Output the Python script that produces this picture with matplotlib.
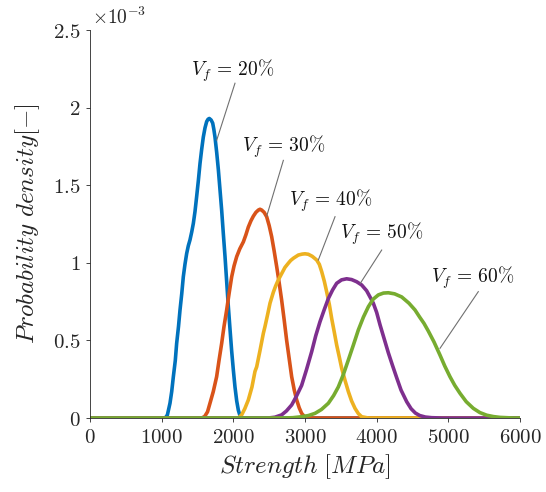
import numpy as np
import matplotlib
matplotlib.use("Agg")
import matplotlib.pyplot as plt
from matplotlib.ticker import FuncFormatter

plt.rcParams['mathtext.fontset'] = 'cm'
plt.rcParams['font.family'] = 'serif'
plt.rcParams['font.serif'] = ['DejaVu Serif']

# Strength [MPa] and density (x1e-3)
x20 = [0, 1000, 1050, 1080, 1116, 1140, 1163, 1190, 1209, 1235, 1256, 1280, 1302, 1325, 1349, 1372, 1395, 1420,
       1442, 1465, 1488, 1512, 1535, 1558, 1581, 1605, 1628, 1647, 1665, 1690, 1712, 1728, 1744, 1768, 1791, 1814,
       1837, 1860, 1884, 1907, 1930, 1954, 1977, 2000, 2023, 2047, 2070, 2093, 2116, 6000]
y20 = [0, 0, 0, 0.02, 0.095, 0.17, 0.266, 0.37, 0.48, 0.59, 0.696, 0.80, 0.91, 0.99, 1.06, 1.11, 1.147, 1.20,
       1.254, 1.33, 1.426, 1.53, 1.64, 1.73, 1.81, 1.87, 1.91, 1.925, 1.93, 1.92, 1.90, 1.86, 1.81, 1.71, 1.60, 1.47,
       1.34, 1.19, 1.04, 0.88, 0.72, 0.57, 0.43, 0.31, 0.20, 0.11, 0.05, 0.015, 0, 0]

x30 = [0, 1500, 1560, 1600, 1640, 1674, 1720, 1767, 1800, 1837, 1870, 1907, 1940, 1977, 2010, 2047, 2090, 2140,
       2175, 2209, 2245, 2279, 2315, 2350, 2372, 2395, 2430, 2465, 2500, 2535, 2570, 2605, 2640, 2674, 2710, 2744,
       2780, 2814, 2850, 2884, 2920, 2953, 2990, 3046, 6000]
y30 = [0, 0, 0, 0.01, 0.04, 0.095, 0.17, 0.266, 0.37, 0.48, 0.59, 0.696, 0.80, 0.91, 0.98, 1.04, 1.09, 1.135,
       1.18, 1.23, 1.27, 1.30, 1.325, 1.340, 1.345, 1.34, 1.325, 1.297, 1.24, 1.168, 1.075, 0.975, 0.87, 0.76, 0.63,
       0.50, 0.38, 0.266, 0.18, 0.116, 0.065, 0.03, 0.01, 0, 0]

x40 = [0, 2000, 2070, 2116, 2160, 2209, 2260, 2302, 2326, 2370, 2419, 2442, 2480, 2512, 2558, 2590, 2628, 2674,
       2720, 2767, 2800, 2840, 2907, 2960, 3000, 3046, 3100, 3163, 3200, 3233, 3270, 3302, 3340, 3372, 3410, 3442,
       3480, 3512, 3560, 3605, 3650, 3698, 3745, 3791, 3884, 6000]
y40 = [0, 0, 0, 0.02, 0.06, 0.116, 0.20, 0.30, 0.33, 0.43, 0.546, 0.59, 0.67, 0.74, 0.81, 0.85, 0.89, 0.93,
       0.97, 0.997, 1.015, 1.03, 1.05, 1.056, 1.058, 1.055, 1.042, 1.018, 0.99, 0.943, 0.88, 0.814, 0.73, 0.642, 0.55,
       0.47, 0.39, 0.32, 0.24, 0.17, 0.11, 0.062, 0.028, 0.008, 0, 0]

x50 = [0, 2400, 2488, 2580, 2674, 2740, 2814, 2880, 2953, 3020, 3093, 3150, 3209, 3270, 3326, 3385, 3442, 3510,
       3581, 3650, 3721, 3791, 3860, 3907, 3953, 4000, 4047, 4105, 4163, 4220, 4279, 4340, 4419, 4480, 4540, 4600,
       4680, 4767, 4907, 6000]
y50 = [0, 0, 0, 0.005, 0.02, 0.045, 0.084, 0.14, 0.21, 0.31, 0.427, 0.53, 0.62, 0.70, 0.77, 0.825, 0.868, 0.89,
       0.897, 0.892, 0.878, 0.857, 0.82, 0.78, 0.74, 0.68, 0.60, 0.51, 0.42, 0.34, 0.26, 0.18, 0.105, 0.06, 0.032,
       0.016, 0.006, 0.002, 0, 0]

x60 = [0, 2700, 2830, 2953, 3050, 3140, 3230, 3326, 3400, 3465, 3535, 3605, 3675, 3744, 3815, 3884, 3950, 4023,
       4095, 4163, 4250, 4349, 4450, 4535, 4600, 4660, 4721, 4800, 4884, 4950, 5023, 5090, 5163, 5250, 5349, 5440,
       5535, 5630, 5721, 5907, 6000]
y60 = [0, 0, 0.002, 0.008, 0.016, 0.03, 0.055, 0.095, 0.145, 0.20, 0.28, 0.374, 0.47, 0.567, 0.65, 0.717, 0.765, 0.793,
       0.805, 0.807, 0.800, 0.780, 0.740, 0.696, 0.65, 0.61, 0.560, 0.49, 0.405, 0.335, 0.266, 0.21, 0.159, 0.105, 0.062,
       0.035, 0.018, 0.009, 0.004, 0, 0]

labels = ['$V_f\\,=\\,20\\%$', '$V_f\\,=\\,30\\%$', '$V_f\\,=\\,40\\%$', '$V_f\\,=\\,50\\%$', '$V_f\\,=\\,60\\%$']
colors = ['#0072BD', '#D95319', '#EDB120', '#7E2F8E', '#77AC30']

series = [(x20, y20), (x30, y30), (x40, y40), (x50, y50), (x60, y60)]

fig = plt.figure(figsize=(5.46, 4.92), dpi=100)
ax = fig.add_axes([90/546, 1-418/492, 430/546, 388/492])

for (xs, ys), c in zip(series, colors):
    ax.plot(xs, np.array(ys) * 1e-3, color=c, lw=2.6, solid_capstyle='round', solid_joinstyle='round')

ax.set_xlim(0, 6000)
ax.set_ylim(0, 2.5e-3)
ax.set_xticks(np.arange(0, 6001, 1000))
ax.set_yticks([0, 0.5e-3, 1e-3, 1.5e-3, 2e-3, 2.5e-3])
ax.xaxis.set_major_formatter(FuncFormatter(lambda v, p: '$%d$' % round(v)))
ax.yaxis.set_major_formatter(FuncFormatter(lambda v, p: ('$%g$' % round(v * 1e3, 2))))
for s in ['top', 'right']:
    ax.spines[s].set_visible(False)
for s in ['left', 'bottom']:
    ax.spines[s].set_color('#262626')
    ax.spines[s].set_linewidth(0.6)
ax.tick_params(direction='out', length=3, width=0.6, color='#262626', labelsize=15, labelcolor='#262626', pad=4)

ax.set_xlabel('$Strength\\ [MPa]$', fontsize=18, color='#262626', labelpad=4)
ax.set_ylabel('$Probability\\ density[-]$', fontsize=18, color='#262626', labelpad=8)
fig.text(92/546, 1-17/492, '$\\times 10^{-3}$', fontsize=14, color='#262626', va='center', ha='left')

# annotations: text centre in data coords, then leader line end points
ann_text = [(1996, 2.236e-3), (2698, 1.746e-3), (3360, 1.398e-3), (4070, 1.186e-3), (5344, 0.902e-3)]
ann_line = [((2023, 2.157e-3), (1768, 1.79e-3)), ((2698, 1.66e-3), (2465, 1.30e-3)),
            ((3419, 1.297e-3), (3186, 1.018e-3)), ((4070, 1.082e-3), (3772, 0.868e-3)),
            ((5418, 0.814e-3), (4884, 0.449e-3))]
for lab, (tx, ty), ((x1, y1), (x2, y2)) in zip(labels, ann_text, ann_line):
    ax.text(tx, ty, lab, fontsize=14, ha='center', va='center', color='#111111')
    ax.plot([x1, x2], [y1, y2], color='#707070', lw=0.8)

fig.savefig('out.png', dpi=100)
